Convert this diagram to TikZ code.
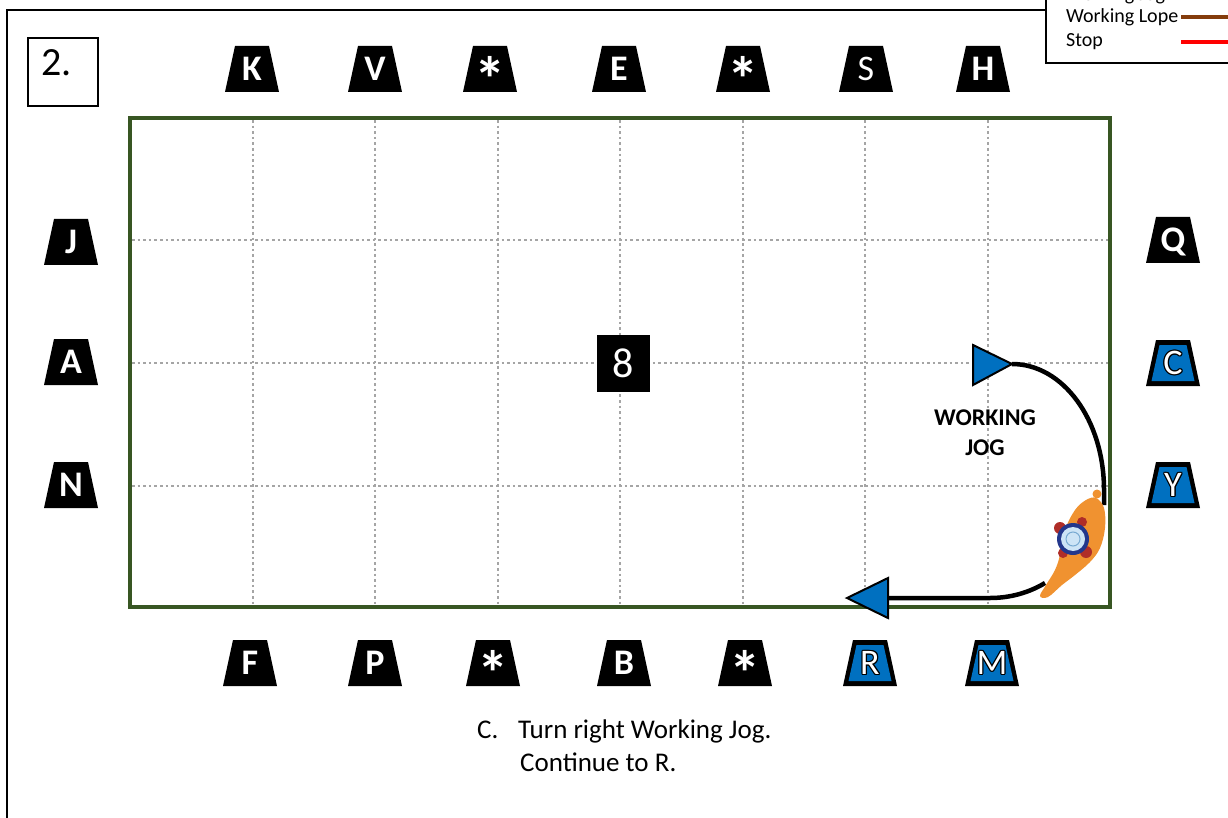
\documentclass[tikz,border=0pt]{standalone}
\usepackage{fontspec}
\usepackage{graphicx}
\setmainfont{Carlito}
\usetikzlibrary{calc}

\definecolor{arenagreen}{RGB}{56,86,35}
\definecolor{gridgray}{RGB}{165,165,165}
\definecolor{markerblue}{RGB}{0,112,192}
\definecolor{lopebrown}{RGB}{132,60,12}
\definecolor{horseorange}{RGB}{240,146,48}
\definecolor{hatblue}{RGB}{205,228,246}
\definecolor{hatring}{RGB}{120,170,210}
\definecolor{ridernavy}{RGB}{35,55,140}
\definecolor{riderred}{RGB}{175,45,40}

\newcommand\fsz[1]{\fontsize{#1}{#1}\selectfont}
% white letter with a thin black outline
\newcommand\ringletter[1]{%
  \rlap{\kern-1.2pt\textcolor{black}{#1}}%
  \rlap{\kern1.2pt\textcolor{black}{#1}}%
  \rlap{\raisebox{1.2pt}{\textcolor{black}{#1}}}%
  \rlap{\raisebox{-1.2pt}{\textcolor{black}{#1}}}%
  \rlap{\kern-0.85pt\raisebox{0.85pt}{\textcolor{black}{#1}}}%
  \rlap{\kern0.85pt\raisebox{0.85pt}{\textcolor{black}{#1}}}%
  \rlap{\kern-0.85pt\raisebox{-0.85pt}{\textcolor{black}{#1}}}%
  \rlap{\kern0.85pt\raisebox{-0.85pt}{\textcolor{black}{#1}}}%
  #1}
\newcommand\lowstar{\raisebox{-21pt}{\scalebox{1.75}{*}}}

\tikzset{
  trapfill/.style={
    path picture={\fill[black]
      (path picture bounding box.south west) --
      (path picture bounding box.south east) --
      ([xshift=-10pt]path picture bounding box.north east) --
      ([xshift=10pt]path picture bounding box.north west) -- cycle;}},
  marker/.style={trapfill, minimum width=54pt, minimum height=46pt,
    inner sep=0pt, text height=23pt, text depth=0pt, text=white,
    font=\bfseries\fsz{36}},
  thinmarker/.style={marker, font=\fsz{36}},
  bluemarker/.style={minimum width=54pt, minimum height=46pt,
    inner sep=0pt, text height=23pt, text depth=0pt, text=white,
    font=\fsz{36},
    path picture={
      \fill[black]
        (path picture bounding box.south west) --
        (path picture bounding box.south east) --
        ([xshift=-10pt]path picture bounding box.north east) --
        ([xshift=10pt]path picture bounding box.north west) -- cycle;
      \fill[markerblue]
        ([xshift=5.5pt,yshift=5pt]path picture bounding box.south west) --
        ([xshift=-5.5pt,yshift=5pt]path picture bounding box.south east) --
        ([xshift=-13.5pt,yshift=-5pt]path picture bounding box.north east) --
        ([xshift=13.5pt,yshift=-5pt]path picture bounding box.north west) -- cycle;}},
  gridline/.style={gridgray, line width=2pt, dash pattern=on 2.6pt off 3pt},
  frameline/.style={black, line width=2.5pt},
  route/.style={black, line width=4.5pt},
  routehead/.style={fill=markerblue, draw=black, line width=2pt},
  note/.style={anchor=base west, inner sep=0pt, font=\fsz{27}},
}

\begin{document}
\begin{tikzpicture}[x=1pt, y=-1pt]
\useasboundingbox (0,0) rectangle (1228,818);
\clip (0,0) rectangle (1228,818);
\fill[white] (0,0) rectangle (1228,818);

% outer frame and legend box
\draw[frameline] (7,822) -- (7,10) -- (1046,10);
\draw[frameline] (1046,-5) -- (1046,63) -- (1235,63);
\node[anchor=base west, inner sep=0pt, font=\fsz{20}] (joglabel) at (1066,1) {Working Jog};
\node[anchor=west, inner sep=0pt, font=\fsz{20}] (lopelabel) at (1066,17) {Working Lope};
\node[anchor=west, inner sep=0pt, font=\fsz{20}] (stoplabel) at (1066,42) {Stop};
\draw[lopebrown, line width=4pt] (1181,17) -- (1235,17);
\draw[red, line width=4pt] (1181,42) -- (1235,42);

% pattern number
\node[draw, line width=2pt, minimum width=70pt, minimum height=68pt, inner sep=0pt] (patternbox) at (63,72) {};
\node[anchor=base west, inner sep=0pt, font=\fsz{40}] (patternno) at (41,76) {2.};

% arena grid
\foreach \gx in {252.5,375,497.5,620,742.5,865,987.5}
  \draw[gridline] (\gx,120) -- (\gx,605);
\foreach \gy in {240.5,363,485.5}
  \draw[gridline] (132,\gy) -- (1108,\gy);
\node[draw=arenagreen, line width=4.5pt, minimum width=980pt, minimum height=489pt, inner sep=0pt] (arena) at (620,362.5) {};

% centre marker
\node[fill=black, minimum width=53pt, minimum height=57pt, inner sep=0pt, text=white,
      font=\fsz{42}, text height=27pt, text depth=0pt] (centre) at (623.5,363.5) {8};

% letters along the top
\node[marker] (K) at (252,69) {K};
\node[marker] (V) at (375,69) {V};
\node[marker] (topstarA) at (490,69) {\lowstar};
\node[marker] (E) at (619,69) {E};
\node[marker] (topstarB) at (743,69) {\lowstar};
\node[thinmarker] (S) at (866,69) {S};
\node[marker] (H) at (983,69) {H};

% letters along the left
\node[marker] (J) at (71,242) {J};
\node[marker] (A) at (71,362) {A};
\node[marker] (N) at (71,485) {N};

% letters along the right
\node[marker] (Q) at (1173,240) {Q};
\node[bluemarker] (C) at (1173,363) {\ringletter{C}};
\node[bluemarker] (Y) at (1173,485) {\ringletter{Y}};

% letters along the bottom
\node[marker] (F) at (250,663) {F};
\node[marker] (P) at (375,663) {P};
\node[marker] (botstarA) at (493,663) {\lowstar};
\node[marker] (B) at (624,663) {B};
\node[marker] (botstarB) at (745,663) {\lowstar};
\node[bluemarker] (R) at (870,663) {\ringletter{R}};
\node[bluemarker] (M) at (992,663) {\ringletter{M}};

% route: turn right at C, continue to R
\coordinate (jogtip) at (1012,364);
\coordinate (turnend) at (1104,505);
\coordinate (tailend) at (1045,583);
\coordinate (stopbase) at (888,598);
\coordinate (stoptip) at (847,598);
\draw[route] (jogtip) .. controls (1063,364) and (1104,420) .. (1104,490) -- (turnend);
\draw[route] (tailend) .. controls (1025,595) and (1005,598) .. (990,598) -- (stopbase);
\filldraw[routehead] (jogtip) -- ++(-39,-19) -- ++(0,40) -- cycle;
\filldraw[routehead] (stoptip) -- ([yshift=20pt]stopbase) -- ([yshift=-20pt]stopbase) -- cycle;
\node[font=\bfseries\fontsize{24}{30}\selectfont, align=center, inner sep=0pt] (gaitlabel) at (985,433) {WORKING\\JOG};

% horse and rider, seen from above
\fill[horseorange] plot[smooth cycle, tension=0.6] coordinates {
  (1096,498) (1104,508) (1105,528) (1100,548) (1090,562) (1075,575)
  (1062,585) (1048,597) (1040,596) (1046,585) (1055,570) (1060,555)
  (1065,530) (1075,510) (1086,500)};
\fill[horseorange] (1097,494) circle[radius=4.5];
\fill[riderred] (1060,528) circle[radius=6];
\fill[riderred] (1086,552) circle[radius=6];
\fill[riderred] (1082,522) circle[radius=5];
\fill[riderred] (1063,553) circle[radius=5];
\fill[ridernavy] (1073,539) circle[radius=16];
\fill[hatblue] (1073,539) circle[radius=12];
\draw[hatring, line width=1pt] (1073,539) circle[radius=7];

% instruction text
\node[note] (steplabel) at (477,738) {C.};
\node[note] (stepline) at (518,738) {Turn right Working Jog.};
\node[note] (stepnext) at (520,771) {Continue to R.};
\end{tikzpicture}
\end{document}
